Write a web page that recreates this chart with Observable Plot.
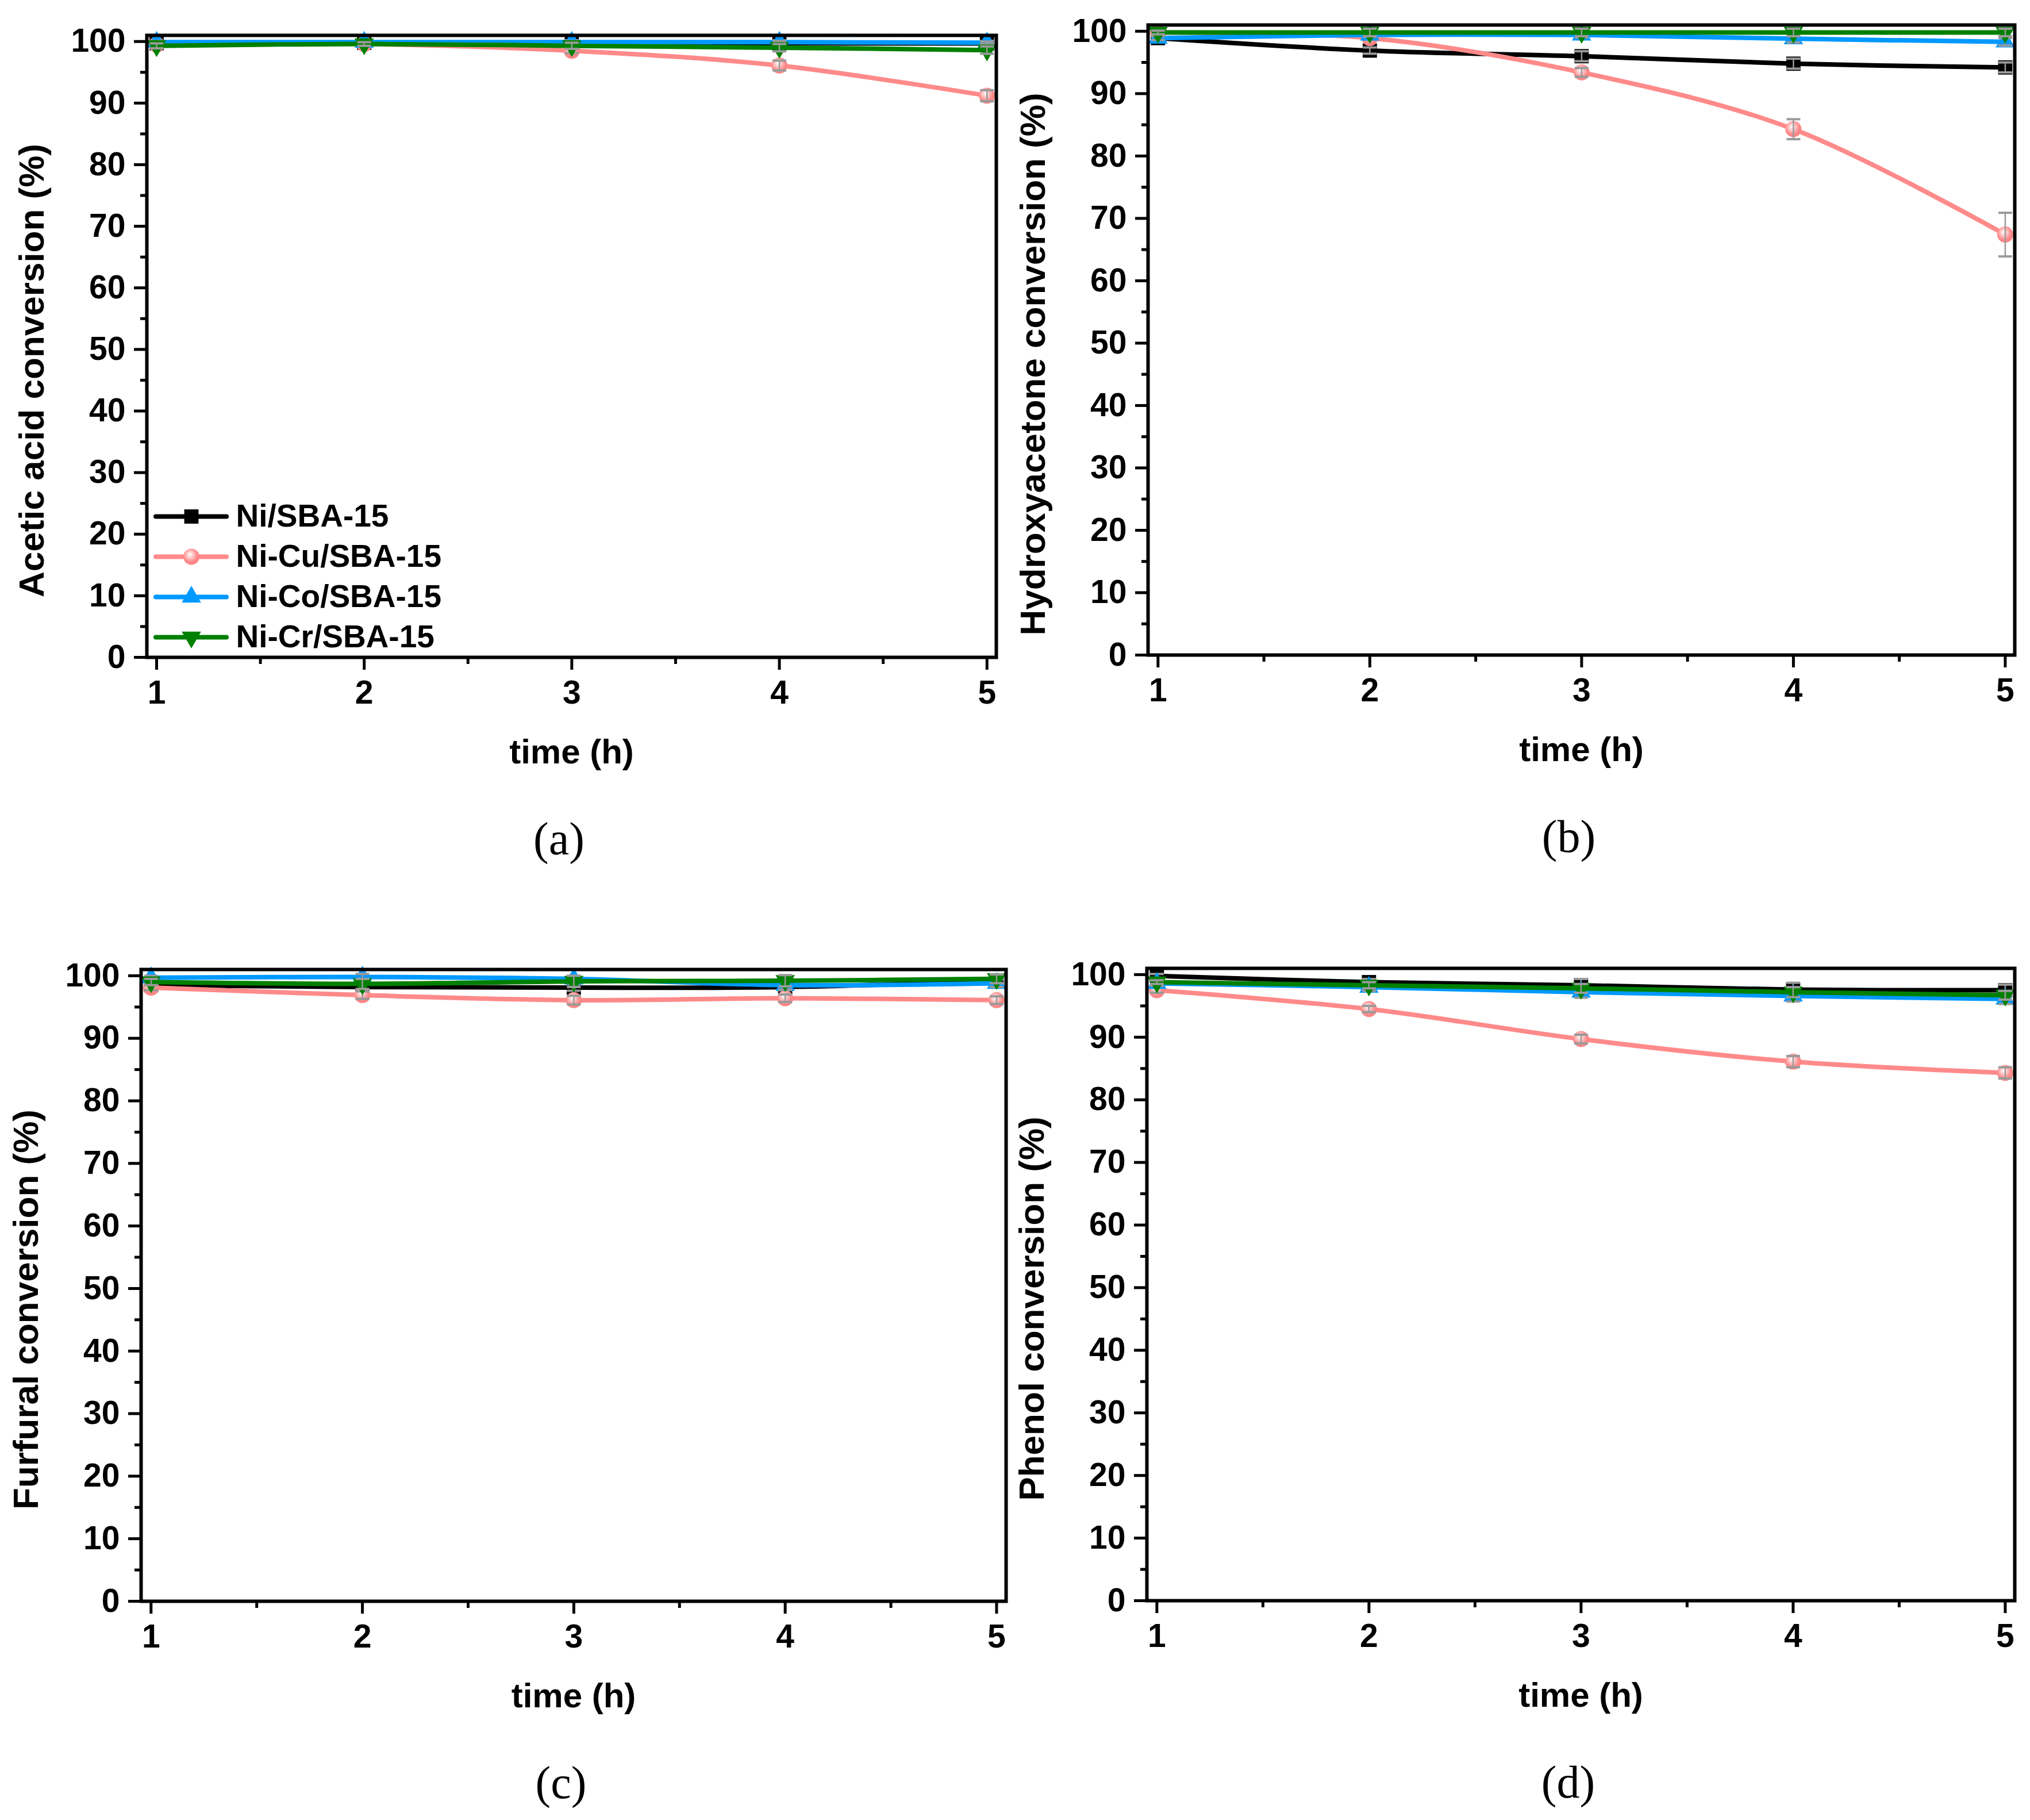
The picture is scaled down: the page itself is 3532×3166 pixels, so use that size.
<!DOCTYPE html>
<html>
<head>
<meta charset="utf-8">
<script src="https://cdn.jsdelivr.net/npm/d3@7"></script>
<script src="https://cdn.jsdelivr.net/npm/@observablehq/plot@0.6"></script>
<style>
  html, body { margin: 0; padding: 0; background: #ffffff; }
  #root { position: relative; width: 3532px; height: 3166px; overflow: hidden; background: #ffffff; }
  #root svg { position: absolute; }
</style>
</head>
<body>
<div id="root"></div>
<script>
// ---------- data ----------
const time = [1, 2, 3, 4, 5];
const catalysts = ["Ni/SBA-15", "Ni-Cu/SBA-15", "Ni-Co/SBA-15", "Ni-Cr/SBA-15"];
const yTicks = [0, 10, 20, 30, 40, 50, 60, 70, 80, 90, 100];
const yMinorTicks = [5, 15, 25, 35, 45, 55, 65, 75, 85, 95];
const xTicks = [1, 2, 3, 4, 5];
const xMinorTicks = [1.5, 2.5, 3.5, 4.5];

// rows: Ni, Ni-Cu, Ni-Co, Ni-Cr
const aceticAcid = [
  [99.7, 99.8, 99.8, 99.7, 99.7],
  [99.5, 99.6, 98.5, 96.1, 91.2],
  [99.9, 99.9, 99.9, 99.9, 99.8],
  [99.3, 99.6, 99.3, 99.0, 98.6]
];
const aceticAcidErr = [
  [0.3, 0.3, 0.4, 0.5, 0.4],
  [0.2, 0.2, 0.4, 0.8, 0.9],
  [0.2, 0.2, 0.2, 0.2, 0.2],
  [0.4, 0.3, 0.5, 0.6, 0.6]
];
const hydroxyacetone = [
  [98.9, 96.9, 96.0, 94.8, 94.2],
  [99.8, 98.9, 93.4, 84.3, 67.4],
  [98.9, 99.4, 99.4, 98.8, 98.3],
  [99.8, 99.8, 99.8, 99.8, 99.8]
];
const hydroxyacetoneErr = [
  [0.4, 0.5, 0.8, 0.8, 0.8],
  [0.3, 0.3, 0.7, 1.6, 3.5],
  [0.3, 0.3, 0.4, 0.6, 0.6],
  [0.3, 0.6, 0.6, 0.6, 0.6]
];
const furfural = [
  [98.5, 98.2, 98.1, 98.2, 99.2],
  [98.1, 96.9, 96.1, 96.4, 96.1],
  [99.7, 99.8, 99.5, 98.5, 98.8],
  [99.0, 98.7, 99.1, 99.2, 99.5]
];
const furfuralErr = [
  [0.4, 0.4, 0.5, 0.5, 0.4],
  [0.4, 0.6, 0.7, 0.6, 0.6],
  [0.3, 0.5, 0.5, 0.7, 0.6],
  [0.5, 0.8, 0.9, 0.9, 0.7]
];
const phenol = [
  [99.8, 98.8, 98.3, 97.6, 97.5],
  [97.5, 94.5, 89.7, 86.1, 84.3],
  [98.6, 98.0, 97.2, 96.6, 96.1],
  [98.8, 98.3, 97.8, 97.2, 96.7]
];
const phenolErr = [
  [0.3, 0.5, 1.0, 1.1, 0.9],
  [0.4, 0.5, 0.7, 0.9, 0.9],
  [0.4, 0.6, 0.9, 0.9, 0.8],
  [0.3, 0.5, 0.7, 0.8, 0.7]
];

// ---------- styles ----------
const triangleDown = {
  draw(ctx, size) {
    const y = Math.sqrt(size / (Math.sqrt(3) * 3));
    ctx.moveTo(0, 2 * y);
    ctx.lineTo(-Math.sqrt(3) * y, -y);
    ctx.lineTo(Math.sqrt(3) * y, -y);
    ctx.closePath();
  }
};
const hline = {
  draw(ctx, size) {
    const w = Math.sqrt(size / Math.PI);
    ctx.moveTo(-w, 0);
    ctx.lineTo(w, 0);
  }
};
const seriesStyle = [
  {color: "#000000", symbol: "square", r: 14},
  {color: "#ff8a8a", symbol: "circle", r: 14, shaded: true},
  {color: "#0099ff", symbol: "triangle", r: 12.5},
  {color: "#008000", symbol: triangleDown, r: 12.5}
];
const FONT = "'Liberation Sans', Arial, Helvetica, sans-serif";
const SERIF = "'Liberation Serif', 'Times New Roman', serif";

function addGradient(svg, id) {
  const defs = d3.select(svg).insert("defs", ":first-child");
  const g = defs.append("radialGradient").attr("id", id)
    .attr("cx", "0.45").attr("cy", "0.42").attr("r", "0.6")
    .attr("fx", "0.4").attr("fy", "0.34");
  g.append("stop").attr("offset", "0").attr("stop-color", "#ffffff");
  g.append("stop").attr("offset", "0.28").attr("stop-color", "#ffd0d0");
  g.append("stop").attr("offset", "0.7").attr("stop-color", "#ff8a8a");
  g.append("stop").attr("offset", "1").attr("stop-color", "#ff8282");
}

// ---------- layout ----------
const panels = [
  {values: aceticAcid, errors: aceticAcidErr, ylabel: "Acetic acid conversion (%)", caption: "(a)",
   frame: {left: 255, right: 1733, top: 61, bottom: 1143}},
  {values: hydroxyacetone, errors: hydroxyacetoneErr, ylabel: "Hydroxyacetone conversion (%)", caption: "(b)",
   frame: {left: 1997, right: 3505, top: 43, bottom: 1139}},
  {values: furfural, errors: furfuralErr, ylabel: "Furfural conversion (%)", caption: "(c)",
   frame: {left: 245, right: 1750, top: 1686, bottom: 2785}},
  {values: phenol, errors: phenolErr, ylabel: "Phenol conversion (%)", caption: "(d)",
   frame: {left: 1995, right: 3505, top: 1684, bottom: 2784}}
];

const root = document.getElementById("root");

panels.forEach((p, idx) => {
  const f = p.frame;
  const mL = 250, mR = 25, mT = 50, mB = 375;
  const width = f.right - f.left + mL + mR;
  const height = f.bottom - f.top + mT + mB;
  const gid = "pinkShade" + idx;
  const marks = [];

  p.values.forEach((vals, s) => {
    const st = seriesStyle[s];
    const rows = time.map((t, i) => ({t, v: vals[i], e: p.errors[s][i]}));
    marks.push(Plot.line(rows, {x: "t", y: "v", stroke: st.color, strokeWidth: 8,
      curve: "catmull-rom", strokeLinecap: "round", strokeLinejoin: "round"}));
    marks.push(Plot.dot(rows, {x: "t", y: "v", symbol: st.symbol, r: st.r,
      fill: st.shaded ? `url(#${gid})` : st.color, stroke: "none"}));
    marks.push(Plot.ruleX(rows, {x: "t", y1: d => d.v - d.e, y2: d => d.v + d.e,
      stroke: "#9a9a9a", strokeWidth: 2.5}));
    marks.push(Plot.dot(rows, {x: "t", y: d => d.v + d.e, symbol: hline, r: 12,
      stroke: "#9a9a9a", strokeWidth: 4, fill: "none"}));
    marks.push(Plot.dot(rows, {x: "t", y: d => d.v - d.e, symbol: hline, r: 12,
      stroke: "#9a9a9a", strokeWidth: 4, fill: "none"}));
  });

  marks.push(
    Plot.axisY({ticks: yTicks, tickSize: 22, tickPadding: 15, strokeWidth: 5, tickFormat: d3.format("d"),
      fontSize: 57, fontWeight: "bold", fill: "black", label: null}),
    Plot.axisY({ticks: yMinorTicks, tickSize: 11, tickFormat: () => "", strokeWidth: 5, label: null}),
    Plot.axisX({ticks: xTicks, tickSize: 22, tickPadding: 18, strokeWidth: 5, tickFormat: d3.format("d"),
      fontSize: 57, fontWeight: "bold", fill: "black", label: null}),
    Plot.axisX({ticks: xMinorTicks, tickSize: 12, tickFormat: () => "", strokeWidth: 5, label: null}),
    Plot.frame({stroke: "black", strokeWidth: 6}),
    Plot.text([p.ylabel], {text: d => d, frameAnchor: "left", textAnchor: "middle", rotate: -90,
      dx: -199, dy: 42, fontSize: 62, fontWeight: "bold", fill: "black"}),
    Plot.text(["time (h)"], {text: d => d, frameAnchor: "bottom", textAnchor: "middle", dy: 184,
      fontSize: 60, fontWeight: "bold", fill: "black"}),
    Plot.text([p.caption], {text: d => d, frameAnchor: "bottom", textAnchor: "middle", dy: 342, dx: -22,
      fontSize: 80, fontWeight: "normal", fontFamily: SERIF, fill: "black"})
  );

  const svg = Plot.plot({
    width, height,
    marginLeft: mL, marginRight: mR, marginTop: mT, marginBottom: mB,
    x: {domain: [0.953, 5.045]},
    y: {domain: [0, 101]},
    style: {fontFamily: FONT, color: "black", background: "transparent", overflow: "visible"},
    marks
  });
  addGradient(svg, gid);
  svg.style.left = (f.left - mL) + "px";
  svg.style.top = (f.top - mT) + "px";
  root.appendChild(svg);
});

// ---------- legend (inside panel a) ----------
const legendMarks = [];
catalysts.forEach((c, s) => {
  const st = seriesStyle[s];
  legendMarks.push(
    Plot.ruleY([c], {y: d => d, x1: 0, x2: 1, stroke: st.color, strokeWidth: 8, strokeLinecap: "round"}),
    Plot.dot([c], {y: d => d, x: 0.5, symbol: st.symbol, r: st.r,
      fill: st.shaded ? "url(#pinkShadeLegend)" : st.color, stroke: "none"}),
    Plot.text([c], {y: d => d, x: 1, text: d => d, dx: 16, textAnchor: "start",
      fontSize: 55, fontWeight: "bold", fill: "black"})
  );
});
const legend = Plot.plot({
  width: 620, height: 290, margin: 0,
  x: {domain: [0, 1], range: [11, 134], axis: null},
  y: {type: "point", domain: catalysts, range: [37, 249], padding: 0, axis: null},
  style: {fontFamily: FONT, color: "black", background: "transparent", overflow: "visible"},
  marks: legendMarks
});
addGradient(legend, "pinkShadeLegend");
legend.style.left = "260px";
legend.style.top = "860px";
root.appendChild(legend);
</script>
</body>
</html>
